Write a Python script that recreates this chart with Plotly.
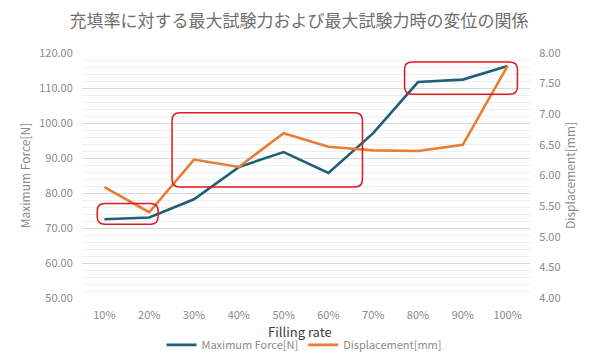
import plotly.graph_objects as go

filling_rate = [10, 20, 30, 40, 50, 60, 70, 80, 90, 100]
tick_labels = ["10%", "20%", "30%", "40%", "50%", "60%", "70%", "80%", "90%", "100%"]
max_force = [72.5, 73.0, 78.2, 87.4, 91.7, 85.7, 97.1, 111.7, 112.4, 116.3]
displacement = [5.81, 5.40, 6.26, 6.14, 6.69, 6.47, 6.41, 6.40, 6.50, 7.79]

# highlight boxes (x in filling-rate units, y in force units)
boxes = [
    (8.4, 22.0, 71.1, 77.0),
    (25.1, 67.6, 81.7, 102.9),
    (77.0, 102.2, 108.2, 117.4),
]

FONT = "Noto Sans CJK JP, Noto Sans, sans-serif"
BLUE = "#1f5f7a"
ORANGE = "#e87d35"
GRAY = "#8a8a8a"

fig = go.Figure()
fig.add_trace(go.Scatter(x=filling_rate, y=max_force, name="Maximum Force[N]",
                         mode="lines", line=dict(color=BLUE, width=2.6)))
fig.add_trace(go.Scatter(x=filling_rate, y=displacement, name="Displacement[mm]",
                         mode="lines", line=dict(color=ORANGE, width=2.6), yaxis="y2"))

def rounded(x0, x1, y0, y1, rx=1.7, ry=2.2):
    return (f"M {x0+rx},{y0} L {x1-rx},{y0} Q {x1},{y0} {x1},{y0+ry} "
            f"L {x1},{y1-ry} Q {x1},{y1} {x1-rx},{y1} "
            f"L {x0+rx},{y1} Q {x0},{y1} {x0},{y1-ry} "
            f"L {x0},{y0+ry} Q {x0},{y0} {x0+rx},{y0} Z")

for (x0, x1, y0, y1) in boxes:
    fig.add_shape(type="path", path=rounded(x0, x1, y0, y1), xref="x", yref="y",
                  line=dict(color="#e0191e", width=1.5), fillcolor="rgba(0,0,0,0)")

# x-axis title, placed as an annotation below the tick labels
fig.add_annotation(text="Filling rate", xref="paper", yref="paper", x=0.4855, y=0,
                   yshift=-33, yanchor="middle", xanchor="center", showarrow=False,
                   font=dict(size=13, color="#404040", family=FONT))

# page body has an 8px default margin, so the figure is 8px smaller than the window
fig.update_layout(
    width=592, height=348,
    margin=dict(l=74, r=70, t=45, b=58),
    paper_bgcolor="white", plot_bgcolor="white",
    font=dict(family=FONT, color=GRAY, size=11),
    title=dict(text="充填率に対する最大試験力および最大試験力時の変位の関係",
               x=0.4916, xanchor="center", xref="container",
               y=0.962, yanchor="middle", yref="container",
               font=dict(size=17, color="#6e6e6e", family=FONT), automargin=False),
    xaxis=dict(range=[5, 105], tickvals=filling_rate, ticktext=tick_labels,
               showgrid=False, zeroline=False, showline=False, automargin=False,
               ticks="outside", ticklen=7, tickcolor="rgba(0,0,0,0)",
               tickfont=dict(size=11, color=GRAY)),
    yaxis=dict(range=[50, 120], dtick=10, tickformat=".2f", automargin=False,
               gridcolor="#d9d9d9", gridwidth=1, zeroline=False, showline=False,
               ticks="outside", ticklen=6, tickcolor="rgba(0,0,0,0)",
               minor=dict(dtick=2, showgrid=True, gridcolor="#efefef", gridwidth=1, ticks=""),
               title=dict(text="Maximum Force[N]", font=dict(size=12, color=GRAY), standoff=6),
               tickfont=dict(size=11, color=GRAY)),
    yaxis2=dict(range=[4, 8], dtick=0.5, tickformat=".2f", overlaying="y", side="right",
                showgrid=False, zeroline=False, showline=False, automargin=False,
                ticks="outside", ticklen=6, tickcolor="rgba(0,0,0,0)",
                title=dict(text="Displacement[mm]", font=dict(size=12, color=GRAY), standoff=6),
                tickfont=dict(size=11, color=GRAY)),
    legend=dict(orientation="h", x=0.5, xanchor="center", xref="container",
                y=0.032, yanchor="middle", yref="container",
                font=dict(size=11, color=GRAY), itemwidth=30, tracegroupgap=0,
                bgcolor="rgba(0,0,0,0)"),
)

fig.write_html("out.html")
